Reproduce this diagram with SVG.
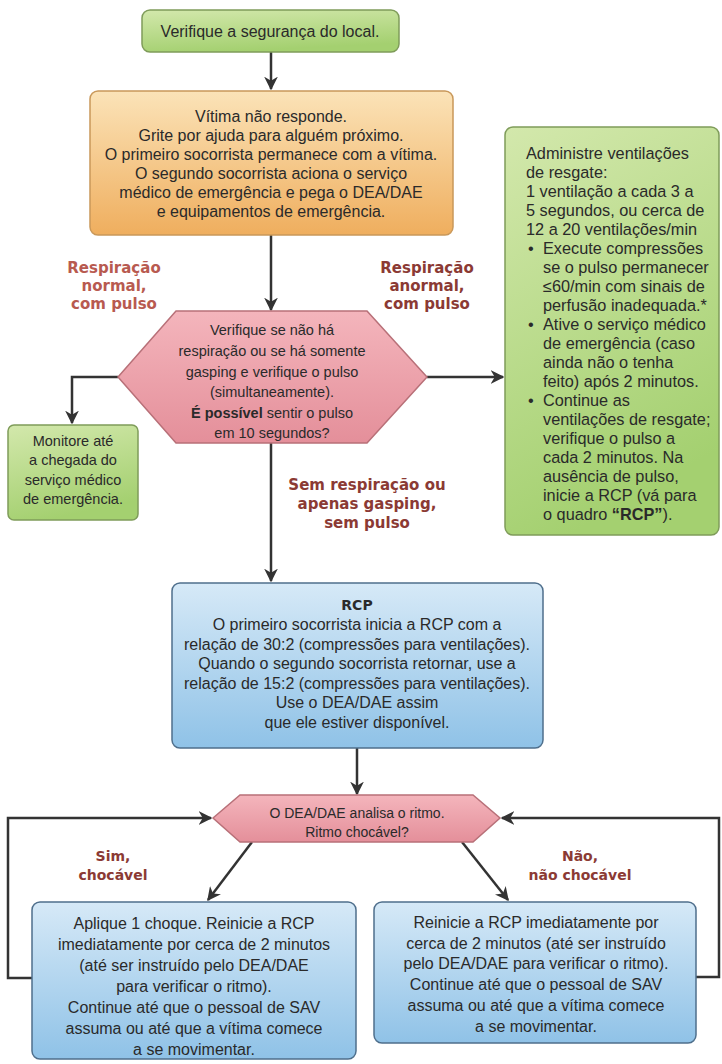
<svg xmlns="http://www.w3.org/2000/svg" width="722" height="1064" viewBox="0 0 722 1064">
<style>
.t{font-family:"Liberation Sans",Arial,sans-serif;font-size:16px;fill:#2a2a2a;text-anchor:middle}
.tl{font-family:"Liberation Sans",Arial,sans-serif;font-size:16.3px;fill:#2a2a2a}
.lab{font-family:"DejaVu Sans",sans-serif;font-weight:bold;font-size:15px;fill:#8b3a34;text-anchor:middle}
.b{font-weight:bold}
.conn{fill:none;stroke:#333;stroke-width:2.5}
.green{fill:url(#gGreen);stroke:#7f9c5a;stroke-width:1.5}
.orange{fill:url(#gOrange);stroke:#c9985a;stroke-width:1.5}
.pink{fill:url(#gPink);stroke:#b87078;stroke-width:1.5}
.blue{fill:url(#gBlue);stroke:#4f6f8c;stroke-width:1.5}
</style>
<defs>
<linearGradient id="gGreen" x1="0" y1="0" x2="0.3" y2="1">
<stop offset="0" stop-color="#d3e8ac"/><stop offset="1" stop-color="#a4d070"/>
</linearGradient>
<linearGradient id="gOrange" x1="0" y1="0" x2="0" y2="1">
<stop offset="0" stop-color="#fbe3b8"/><stop offset="1" stop-color="#efae5e"/>
</linearGradient>
<linearGradient id="gPink" x1="0" y1="0" x2="0" y2="1">
<stop offset="0" stop-color="#f4b5bc"/><stop offset="1" stop-color="#e48f9a"/>
</linearGradient>
<linearGradient id="gBlue" x1="0" y1="0" x2="0" y2="1">
<stop offset="0" stop-color="#d6e9f7"/><stop offset="1" stop-color="#8fc2e7"/>
</linearGradient>
<marker id="arr" viewBox="0 0 10 10" refX="9" refY="5" markerWidth="5.5" markerHeight="5.5" orient="auto" markerUnits="strokeWidth">
<path d="M0,0 L10,5 L0,10 L3,5 z" fill="#333"/>
</marker>
</defs>
<rect width="722" height="1064" fill="#ffffff"/>

<g id="connectors">
<line class="conn" x1="271" y1="52" x2="271" y2="89" marker-end="url(#arr)"/>
<line class="conn" x1="271" y1="235" x2="271" y2="310" marker-end="url(#arr)"/>
<polyline class="conn" points="118,377 72,377 72,423" marker-end="url(#arr)"/>
<line class="conn" x1="427" y1="377" x2="503" y2="377" marker-end="url(#arr)"/>
<line class="conn" x1="271" y1="443" x2="271" y2="581" marker-end="url(#arr)"/>
<line class="conn" x1="357" y1="748" x2="357" y2="794" marker-end="url(#arr)"/>
<line class="conn" x1="252" y1="842" x2="208" y2="900" marker-end="url(#arr)"/>
<line class="conn" x1="462" y1="842" x2="508" y2="900" marker-end="url(#arr)"/>
<polyline class="conn" points="32,978 8,978 8,818 211,818" marker-end="url(#arr)"/>
<polyline class="conn" points="696,977 719,977 719,818 502,818" marker-end="url(#arr)"/>
</g>

<g id="lbl-normal">
<text class="lab" x="114" y="273" style="fill:#b85a50">Respiração</text>
<text class="lab" x="114" y="291" style="fill:#b85a50">normal,</text>
<text class="lab" x="114" y="309" style="fill:#b85a50">com pulso</text>
</g>
<g id="lbl-anormal">
<text class="lab" x="427" y="273">Respiração</text>
<text class="lab" x="427" y="291">anormal,</text>
<text class="lab" x="427" y="309">com pulso</text>
</g>
<g id="lbl-sem">
<text class="lab" x="367" y="490">Sem respiração ou</text>
<text class="lab" x="367" y="509">apenas gasping,</text>
<text class="lab" x="367" y="528">sem pulso</text>
</g>
<g id="lbl-sim">
<text class="lab" x="113" y="861" style="font-size:14px">Sim,</text>
<text class="lab" x="113" y="880" style="font-size:14px">chocável</text>
</g>
<g id="lbl-nao">
<text class="lab" x="580" y="861" style="font-size:14px">Não,</text>
<text class="lab" x="580" y="880" style="font-size:14px">não chocável</text>
</g>

<g id="n-seguranca">
<rect class="green" x="142" y="10" width="257" height="42" rx="8"/>
<text class="t" x="270" y="37">Verifique a segurança do local.</text>
</g>

<g id="n-vitima">
<rect class="orange" x="90" y="91" width="363" height="144" rx="8"/>
<text class="t" x="271" y="122">Vítima não responde.</text>
<text class="t" x="271" y="141">Grite por ajuda para alguém próximo.</text>
<text class="t" x="271" y="160">O primeiro socorrista permanece com a vítima.</text>
<text class="t" x="271" y="179">O segundo socorrista aciona o serviço</text>
<text class="t" x="271" y="198">médico de emergência e pega o DEA/DAE</text>
<text class="t" x="271" y="217">e equipamentos de emergência.</text>
</g>

<g id="n-verifique">
<polygon class="pink" points="118,377 176,311 367,311 427,377 367,443 176,443"/>
<text class="t" x="272" y="335" style="font-size:14.5px">Verifique se não há</text>
<text class="t" x="272" y="356" style="font-size:14.5px">respiração ou se há somente</text>
<text class="t" x="272" y="377" style="font-size:14.5px">gasping e verifique o pulso</text>
<text class="t" x="272" y="397" style="font-size:14.5px">(simultaneamente).</text>
<text class="t" x="272" y="418" style="font-size:14.5px"><tspan class="b">É possível</tspan> sentir o pulso</text>
<text class="t" x="272" y="438" style="font-size:14.5px">em 10 segundos?</text>
</g>

<g id="n-monitore">
<rect class="green" x="8" y="425" width="130" height="95" rx="6"/>
<text class="t" x="73" y="446" style="font-size:14.5px">Monitore até</text>
<text class="t" x="73" y="465" style="font-size:14.5px">a chegada do</text>
<text class="t" x="73" y="485" style="font-size:14.5px">serviço médico</text>
<text class="t" x="73" y="504" style="font-size:14.5px">de emergência.</text>
</g>

<g id="n-ventilacoes">
<rect class="green" x="505" y="127" width="214" height="408" rx="8"/>
<text class="tl" x="526" y="159">Administre ventilações</text>
<text class="tl" x="526" y="178">de resgate:</text>
<text class="tl" x="526" y="197">1 ventilação a cada 3 a</text>
<text class="tl" x="526" y="216">5 segundos, ou cerca de</text>
<text class="tl" x="526" y="235">12 a 20 ventilações/min</text>
<text class="tl" x="528" y="254">•</text>
<text class="tl" x="543" y="254">Execute compressões</text>
<text class="tl" x="543" y="273">se o pulso permanecer</text>
<text class="tl" x="543" y="292">≤60/min com sinais de</text>
<text class="tl" x="543" y="311">perfusão inadequada.*</text>
<text class="tl" x="528" y="330">•</text>
<text class="tl" x="543" y="330">Ative o serviço médico</text>
<text class="tl" x="543" y="349">de emergência (caso</text>
<text class="tl" x="543" y="368">ainda não o tenha</text>
<text class="tl" x="543" y="387">feito) após 2 minutos.</text>
<text class="tl" x="528" y="406">•</text>
<text class="tl" x="543" y="406">Continue as</text>
<text class="tl" x="543" y="425">ventilações de resgate;</text>
<text class="tl" x="543" y="444">verifique o pulso a</text>
<text class="tl" x="543" y="463">cada 2 minutos. Na</text>
<text class="tl" x="543" y="482">ausência de pulso,</text>
<text class="tl" x="543" y="501">inicie a RCP (vá para</text>
<text class="tl" x="543" y="520">o quadro <tspan class="b">“RCP”</tspan>).</text>
</g>

<g id="n-rcp">
<rect class="blue" x="172" y="583" width="371" height="165" rx="8"/>
<text class="t b" x="357" y="610" style="font-family:'DejaVu Sans',sans-serif;font-size:14px">RCP</text>
<text class="t" x="357" y="630">O primeiro socorrista inicia a RCP com a</text>
<text class="t" x="357" y="650">relação de 30:2 (compressões para ventilações).</text>
<text class="t" x="357" y="669">Quando o segundo socorrista retornar, use a</text>
<text class="t" x="357" y="689">relação de 15:2 (compressões para ventilações).</text>
<text class="t" x="357" y="708">Use o DEA/DAE assim</text>
<text class="t" x="357" y="728">que ele estiver disponível.</text>
</g>

<g id="n-dea">
<polygon class="pink" points="213,818 240,795 473,795 500,818 473,842 240,842"/>
<text class="t" x="357" y="818" style="font-size:14px">O DEA/DAE analisa o ritmo.</text>
<text class="t" x="357" y="837" style="font-size:14px">Ritmo chocável?</text>
</g>

<g id="n-choque">
<rect class="blue" x="32" y="902" width="324" height="157" rx="8"/>
<text class="t" x="194" y="929">Aplique 1 choque. Reinicie a RCP</text>
<text class="t" x="194" y="950">imediatamente por cerca de 2 minutos</text>
<text class="t" x="194" y="971">(até ser instruído pelo DEA/DAE</text>
<text class="t" x="194" y="992">para verificar o ritmo).</text>
<text class="t" x="194" y="1013">Continue até que o pessoal de SAV</text>
<text class="t" x="194" y="1034">assuma ou até que a vítima comece</text>
<text class="t" x="194" y="1055">a se movimentar.</text>
</g>

<g id="n-reinicie">
<rect class="blue" x="374" y="902" width="322" height="141" rx="8"/>
<text class="t" x="536" y="928">Reinicie a RCP imediatamente por</text>
<text class="t" x="536" y="949">cerca de 2 minutos (até ser instruído</text>
<text class="t" x="536" y="969">pelo DEA/DAE para verificar o ritmo).</text>
<text class="t" x="536" y="990">Continue até que o pessoal de SAV</text>
<text class="t" x="536" y="1011">assuma ou até que a vítima comece</text>
<text class="t" x="536" y="1032">a se movimentar.</text>
</g>
</svg>
